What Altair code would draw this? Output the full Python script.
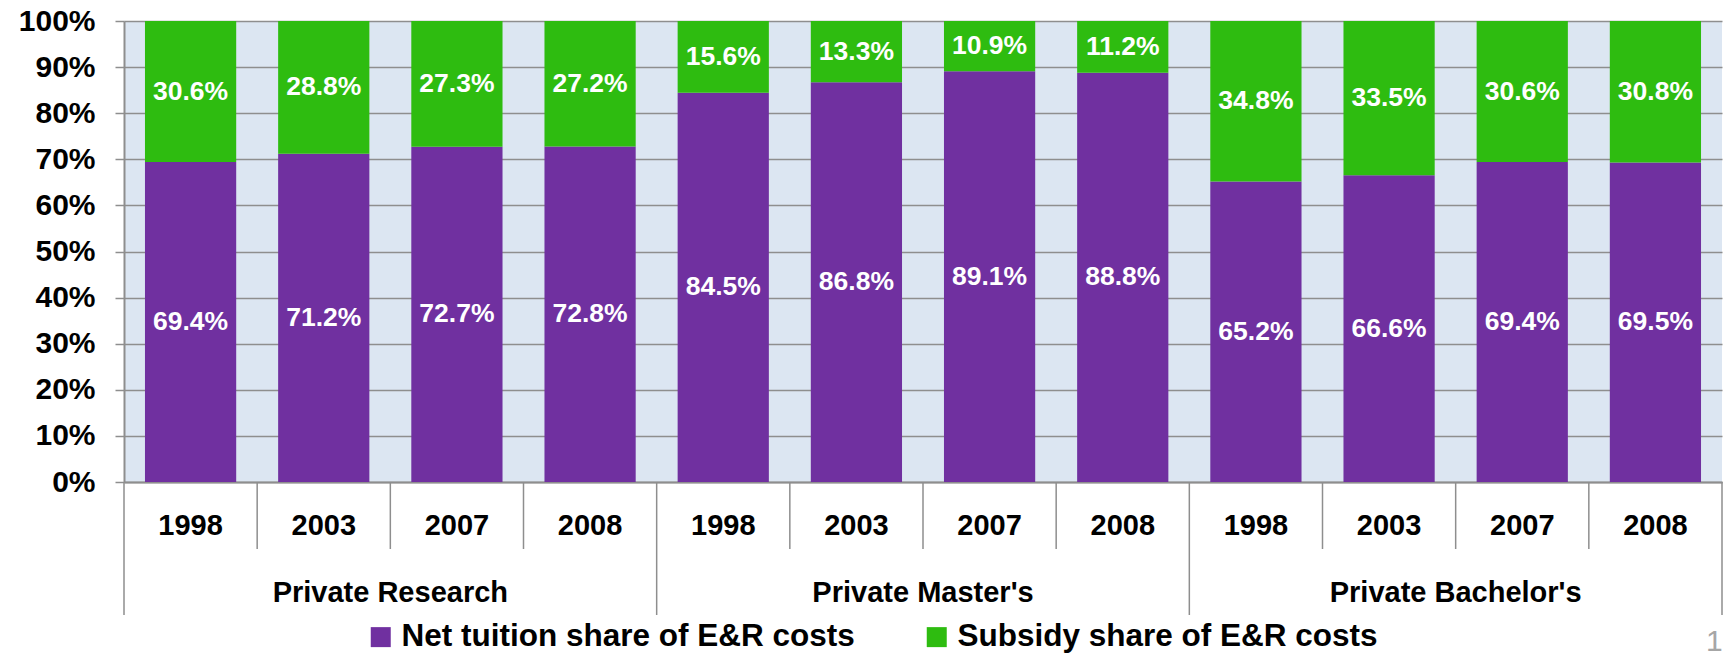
import altair as alt
import pandas as pd

groups = ["Private Research", "Private Master's", "Private Bachelor's"]
years = ["1998", "2003", "2007", "2008"]
series = ["Net tuition share of E&R costs", "Subsidy share of E&R costs"]
net_tuition = [69.4, 71.2, 72.7, 72.8, 84.5, 86.8, 89.1, 88.8, 65.2, 66.6, 69.4, 69.5]
subsidy = [30.6, 28.8, 27.3, 27.2, 15.6, 13.3, 10.9, 11.2, 34.8, 33.5, 30.6, 30.8]
y_ticks = [0, 0.1, 0.2, 0.3, 0.4, 0.5, 0.6, 0.7, 0.8, 0.9, 1.0]
page_number = ["17"]
colors = ["#7030A0", "#2EBC10"]

FONT = "Liberation Sans"
GREY = "#8E8E8E"
BG = "#DCE6F2"

keys = []
rows = []
for gi, g in enumerate(groups):
    for yi, yr in enumerate(years):
        i = gi * len(years) + yi
        key = f"{g}|{yr}"
        keys.append(key)
        for si, vals in enumerate([net_tuition, subsidy]):
            rows.append({"key": key, "series": series[si], "order": si,
                         "value": vals[i], "label": f"{vals[i]:.1f}%"})
df = pd.DataFrame(rows)

n_years = len(years)
n_slots = len(keys)
df_groups = pd.DataFrame({"group": groups,
                          "center": [gi * n_years + n_years / 2 for gi in range(len(groups))]})
df_bounds = pd.DataFrame({"pos": list(range(n_slots + 1)),
                          "is_group": [p % n_years == 0 for p in range(n_slots + 1)]})
df_page = pd.DataFrame({"page": page_number})

base = alt.Chart(df).transform_stack(
    stack="value", groupby=["key"], as_=["v0", "v1"], offset="normalize",
    sort=[alt.SortField("order", order="ascending")]
)

y_scale = alt.Scale(domain=[0, 1], nice=False)
y_axis = alt.Axis(values=y_ticks, format=".0%", title=None, grid=True,
                  gridColor=GREY, gridWidth=1.5, gridOpacity=1,
                  tickSize=9, tickColor=GREY, tickWidth=1.5,
                  domainColor=GREY, domainWidth=2,
                  labelFont=FONT, labelFontSize=30, labelFontWeight="bold",
                  labelColor="black", labelPadding=20)

x_enc = alt.X("key:N", sort=keys,
              scale=alt.Scale(paddingInner=0.315, paddingOuter=0.1575),
              axis=alt.Axis(title=None, labelExpr="split(datum.value, '|')[1]",
                            ticks=False, domainColor=GREY, domainWidth=2,
                            labelFont=FONT, labelFontSize=29, labelFontWeight="bold",
                            labelColor="black", labelAngle=0, labelBaseline="middle",
                            labelPadding=43))

bars = base.mark_bar().encode(
    x=x_enc,
    y=alt.Y("v0:Q", scale=y_scale, axis=y_axis),
    y2="v1:Q",
    color=alt.Color("series:N", scale=alt.Scale(domain=series, range=colors),
                    legend=alt.Legend(orient="none", legendX=241, legendY=600,
                                      direction="horizontal", title=None,
                                      symbolType="square", symbolSize=400,
                                      symbolStrokeWidth=0, labelFont=FONT,
                                      labelFontSize=31.5, labelFontWeight="bold",
                                      labelColor="black", columnPadding=66,
                                      labelOffset=5, padding=0, labelLimit=0)),
)

labels = base.transform_calculate(mid="(datum.v0 + datum.v1) / 2").mark_text(
    color="white", font=FONT, fontSize=26.5, fontWeight="bold", baseline="middle"
).encode(
    x=alt.X("key:N", sort=keys, axis=None),
    y=alt.Y("mid:Q", scale=y_scale, axis=y_axis),
    text="label:N",
)

pos_scale = alt.Scale(domain=[0, n_slots], nice=False, zero=False)

group_text = alt.Chart(df_groups).mark_text(
    font=FONT, fontSize=29, fontWeight="bold", color="black", baseline="middle"
).encode(
    x=alt.X("center:Q", scale=pos_scale, axis=None),
    y=alt.value(572),
    text="group:N",
)

group_rules = alt.Chart(df_bounds).transform_filter("datum.is_group").mark_rule(
    color=GREY, strokeWidth=1.5
).encode(
    x=alt.X("pos:Q", scale=pos_scale, axis=None),
    y=alt.value(461),
    y2=alt.value(594),
)

year_rules = alt.Chart(df_bounds).transform_filter("!datum.is_group").mark_rule(
    color=GREY, strokeWidth=1.5
).encode(
    x=alt.X("pos:Q", scale=pos_scale, axis=None),
    y=alt.value(461),
    y2=alt.value(528),
)

page = alt.Chart(df_page).mark_text(
    font=FONT, fontSize=30, color="#A6A6A6", align="left", baseline="middle"
).encode(
    x=alt.value(1582), y=alt.value(621), text="page:N"
)

chart = alt.layer(bars, labels, year_rules, group_rules, group_text, page).resolve_scale(
    x="independent"
).properties(
    width=1598, height=461,
    autosize=alt.AutoSizeParams(type="none"),
    padding={"left": 116, "top": 13, "right": 1, "bottom": 171},
    view=alt.ViewBackground(fill=BG, strokeWidth=0),
).configure_view(fill=BG, strokeWidth=0).configure(font=FONT)

chart.save("out.html", embed_options={"renderer": "svg", "actions": False})
